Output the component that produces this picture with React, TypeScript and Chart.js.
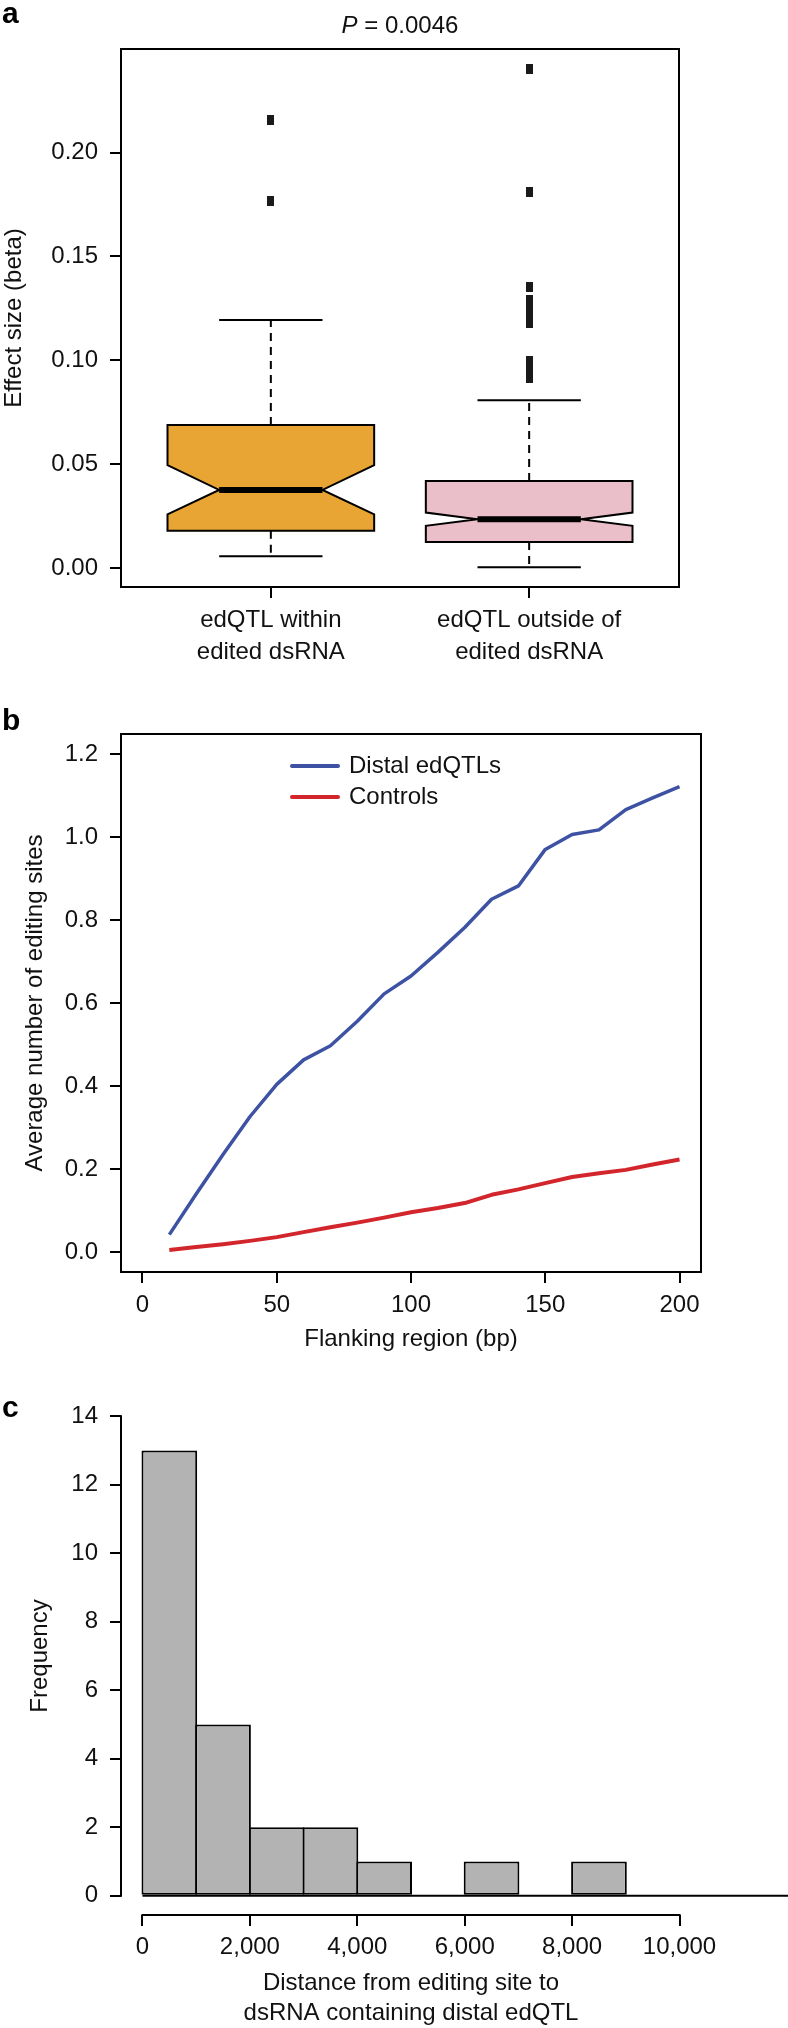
import React, { useEffect, useRef } from 'react';
import { Chart, registerables } from 'chart.js';

Chart.register(...registerables);

const FONT = '"Liberation Sans", Arial, Helvetica, sans-serif';
const INK = '#111111';

// ---------- Panel a: notched box plot ----------
const boxCategories = [
  ['edQTL within', 'edited dsRNA'],
  ['edQTL outside of', 'edited dsRNA'],
];
const boxWhiskerLow = [0.0058, 0.0005];
const boxQ1 = [0.0181, 0.0127];
const boxMedian = [0.0377, 0.0236];
const boxQ3 = [0.0689, 0.042];
const boxWhiskerHigh = [0.1194, 0.0808];
const boxNotchLow = [0.0259, 0.0204];
const boxNotchHigh = [0.0496, 0.0268];
const outliersWithin = [0.2155, 0.1767];
const outliersOutside = [0.24, 0.181, 0.1355, 0.129, 0.1265, 0.124, 0.121, 0.118, 0.0995, 0.0965, 0.094, 0.0915];
const boxColors = ['#E8A534', '#EBBFCA'];
const effectTicks = [0, 0.05, 0.1, 0.15, 0.2];

// ---------- Panel b: lines ----------
const flankBp = [10, 20, 30, 40, 50, 60, 70, 80, 90, 100, 110, 120, 130, 140, 150, 160, 170, 180, 190, 200];
const distalEdQTLs = [0.042, 0.14, 0.235, 0.326, 0.404, 0.463, 0.497, 0.556, 0.622, 0.665, 0.722, 0.782, 0.85, 0.882, 0.97, 1.006, 1.017, 1.066, 1.094, 1.121];
const controlsAvg = [0.005, 0.012, 0.019, 0.027, 0.036, 0.048, 0.06, 0.071, 0.083, 0.096, 0.106, 0.118, 0.138, 0.151, 0.166, 0.181, 0.19, 0.198, 0.211, 0.223];
const flankTicks = [0, 50, 100, 150, 200];
const avgTicks = [0, 0.2, 0.4, 0.6, 0.8, 1.0, 1.2];

// ---------- Panel c: histogram ----------
const binEdges = [0, 1000, 2000, 3000, 4000, 5000, 6000, 7000, 8000, 9000, 10000, 11000, 12000, 13000];
const binCounts = [13, 5, 2, 2, 1, 0, 1, 0, 1, 0, 0, 0, 0];
const distTicks = [0, 2000, 4000, 6000, 8000, 10000];
const freqTicks = [0, 2, 4, 6, 8, 10, 12, 14];

const tickFont = { family: FONT, size: 24 };

const tickGrid = {
  display: true,
  drawOnChartArea: false,
  drawTicks: true,
  tickLength: 11,
  tickWidth: 2,
  lineWidth: 2,
  tickColor: '#000',
  offset: false,
};

function yAxis(min: number, max: number, values: number[], fmt: (v: number) => string, title: string, padTop: number) {
  return {
    type: 'linear',
    position: 'left',
    min,
    max,
    offset: false,
    afterFit: (s: any) => { s.width = 121; },
    afterBuildTicks: (s: any) => { s.ticks = values.map((v) => ({ value: v })); },
    ticks: { font: tickFont, color: INK, padding: 12, autoSkip: false, callback: (v: any) => fmt(Number(v)) },
    grid: tickGrid,
    border: { display: false },
    title: { display: true, text: title, font: { family: FONT, size: 24 }, color: INK, padding: { top: padTop, bottom: 0 } },
  };
}

function xAxis(min: number, max: number, values: number[], label: (v: number, i: number) => any, height: number, pad: number, title: any, lineHeight: number, titlePadBottom: number) {
  return {
    type: 'linear',
    position: 'bottom',
    min,
    max,
    offset: false,
    afterFit: (s: any) => { s.height = height; },
    afterBuildTicks: (s: any) => { s.ticks = values.map((v) => ({ value: v })); },
    ticks: { font: { family: FONT, size: 24, lineHeight }, color: INK, padding: pad, autoSkip: false, maxRotation: 0, minRotation: 0, callback: (v: any, i: number) => label(Number(v), i) },
    grid: tickGrid,
    border: { display: false },
    title: title
      ? { display: true, text: title, font: { family: FONT, size: 24, lineHeight: 1.25 }, color: INK, padding: { top: 0, bottom: titlePadBottom } }
      : { display: false },
  };
}

const framePlugin = {
  id: 'frame',
  afterDraw(chart: any) {
    const { ctx, chartArea: a } = chart;
    ctx.save();
    ctx.strokeStyle = '#000';
    ctx.lineWidth = 2;
    ctx.strokeRect(a.left, a.top, a.right - a.left, a.bottom - a.top);
    ctx.restore();
  },
};

const BOX_HALF = 0.4;
const NOTCH_HALF = 0.2;

const notchedBoxPlugin = {
  id: 'notchedBoxes',
  beforeDatasetsDraw(chart: any) {
    const { ctx, scales } = chart;
    const px = (v: number) => scales.x.getPixelForValue(v);
    const py = (v: number) => scales.y.getPixelForValue(v);
    boxMedian.forEach((med, i) => {
      const c = i + 1;
      const xl = px(c - BOX_HALF), xr = px(c + BOX_HALF);
      const nl = px(c - NOTCH_HALF), nr = px(c + NOTCH_HALF);
      const xc = px(c);
      ctx.save();
      ctx.strokeStyle = '#000';
      ctx.lineWidth = 2;
      ctx.setLineDash([8, 6]);
      ctx.beginPath();
      ctx.moveTo(xc, py(boxQ3[i]));
      ctx.lineTo(xc, py(boxWhiskerHigh[i]));
      ctx.moveTo(xc, py(boxQ1[i]));
      ctx.lineTo(xc, py(boxWhiskerLow[i]));
      ctx.stroke();
      ctx.setLineDash([]);
      ctx.beginPath();
      ctx.moveTo(nl, py(boxWhiskerHigh[i]));
      ctx.lineTo(nr, py(boxWhiskerHigh[i]));
      ctx.moveTo(nl, py(boxWhiskerLow[i]));
      ctx.lineTo(nr, py(boxWhiskerLow[i]));
      ctx.stroke();
      ctx.beginPath();
      ctx.moveTo(xl, py(boxQ3[i]));
      ctx.lineTo(xr, py(boxQ3[i]));
      ctx.lineTo(xr, py(boxNotchHigh[i]));
      ctx.lineTo(nr, py(med));
      ctx.lineTo(xr, py(boxNotchLow[i]));
      ctx.lineTo(xr, py(boxQ1[i]));
      ctx.lineTo(xl, py(boxQ1[i]));
      ctx.lineTo(xl, py(boxNotchLow[i]));
      ctx.lineTo(nl, py(med));
      ctx.lineTo(xl, py(boxNotchHigh[i]));
      ctx.closePath();
      ctx.fillStyle = boxColors[i];
      ctx.fill();
      ctx.lineJoin = 'miter';
      ctx.stroke();
      ctx.lineWidth = 6;
      ctx.beginPath();
      ctx.moveTo(nl, py(med));
      ctx.lineTo(nr, py(med));
      ctx.stroke();
      ctx.restore();
    });
  },
};

const lineLegendPlugin = {
  id: 'lineLegend',
  afterDatasetsDraw(chart: any, _args: any, opts: any) {
    const { ctx, chartArea } = chart;
    const x0 = chartArea.left + opts.offsetX;
    chart.data.datasets.forEach((ds: any, i: number) => {
      const y = chartArea.top + opts.offsetY + i * opts.rowGap;
      ctx.save();
      ctx.strokeStyle = ds.borderColor;
      ctx.lineWidth = opts.lineWidth;
      ctx.lineCap = 'round';
      ctx.beginPath();
      ctx.moveTo(x0, y);
      ctx.lineTo(x0 + opts.lineLength, y);
      ctx.stroke();
      ctx.fillStyle = INK;
      ctx.font = `24px ${FONT}`;
      ctx.textBaseline = 'middle';
      ctx.textAlign = 'left';
      ctx.fillText(ds.label, x0 + opts.lineLength + opts.gap, y);
      ctx.restore();
    });
  },
};

const rAxesPlugin = {
  id: 'rAxes',
  afterDraw(chart: any) {
    const { ctx, chartArea, scales } = chart;
    ctx.save();
    ctx.strokeStyle = '#000';
    ctx.lineWidth = 2;
    ctx.lineCap = 'square';
    ctx.beginPath();
    ctx.moveTo(chartArea.left, scales.y.getPixelForValue(freqTicks[0]));
    ctx.lineTo(chartArea.left, scales.y.getPixelForValue(freqTicks[freqTicks.length - 1]));
    ctx.moveTo(scales.x.getPixelForValue(distTicks[0]), chartArea.bottom);
    ctx.lineTo(scales.x.getPixelForValue(distTicks[distTicks.length - 1]), chartArea.bottom);
    ctx.stroke();
    ctx.restore();
  },
};

const histBaselinePlugin = {
  id: 'histBaseline',
  afterDatasetsDraw(chart: any) {
    const { ctx, scales } = chart;
    const y0 = scales.y.getPixelForValue(0);
    ctx.save();
    ctx.strokeStyle = '#000';
    ctx.lineWidth = 2;
    ctx.beginPath();
    ctx.moveTo(scales.x.getPixelForValue(binEdges[0]), y0);
    ctx.lineTo(scales.x.getPixelForValue(binEdges[binEdges.length - 1]), y0);
    ctx.stroke();
    ctx.restore();
  },
};

function makeMarker(w: number, h: number, color: string) {
  const c = document.createElement('canvas');
  c.width = w;
  c.height = h;
  const g = c.getContext('2d')!;
  g.fillStyle = color;
  g.fillRect(0, 0, w, h);
  return c;
}

const common = {
  responsive: false,
  maintainAspectRatio: false,
  animation: false,
  devicePixelRatio: 1,
  events: [],
};

function configA(): any {
  const marker = makeMarker(7, 10, '#1a1a1a');
  return {
    type: 'scatter',
    data: {
      datasets: [
        { label: 'within', data: outliersWithin.map((v) => ({ x: 1, y: v })), pointStyle: marker, pointRadius: 4 },
        { label: 'outside', data: outliersOutside.map((v) => ({ x: 2, y: v })), pointStyle: marker, pointRadius: 4 },
      ],
    },
    options: {
      ...common,
      layout: { padding: { top: 49, right: 109, bottom: 0, left: 0 } },
      plugins: { legend: { display: false }, tooltip: { enabled: false }, title: { display: false } },
      scales: {
        x: xAxis(0.42, 2.58, boxCategories.map((_, i) => i + 1), (_v, i) => boxCategories[i], 93, 6, null, 1.3334, 0),
        y: yAxis(-0.009, 0.2498, effectTicks, (v) => v.toFixed(2), 'Effect size (beta)', 0),
      },
    },
    plugins: [notchedBoxPlugin, framePlugin],
  };
}

function configB(): any {
  return {
    type: 'line',
    data: {
      datasets: [
        { label: 'Distal edQTLs', data: flankBp.map((x, i) => ({ x, y: distalEdQTLs[i] })), borderColor: '#3D52A3', borderWidth: 3.5, pointRadius: 0, tension: 0, borderJoinStyle: 'round', fill: false },
        { label: 'Controls', data: flankBp.map((x, i) => ({ x, y: controlsAvg[i] })), borderColor: '#D3262C', borderWidth: 4, pointRadius: 0, tension: 0, borderJoinStyle: 'round', fill: false },
      ],
    },
    options: {
      ...common,
      layout: { padding: { top: 34, right: 87, bottom: 0, left: 0 } },
      plugins: {
        legend: { display: false },
        tooltip: { enabled: false },
        lineLegend: { offsetX: 171, offsetY: 32, rowGap: 31, lineLength: 46, lineWidth: 4, gap: 11 },
      },
      scales: {
        x: xAxis(-8, 208, flankTicks, (v) => String(v), 88, 8, 'Flanking region (bp)', 1.2, 6),
        y: yAxis(-0.048, 1.248, avgTicks, (v) => v.toFixed(1), 'Average number of editing sites', 21),
      },
    },
    plugins: [framePlugin, lineLegendPlugin],
  };
}

function configC(): any {
  const barData = binCounts.map((c, i) => ({ x: (binEdges[i] + binEdges[i + 1]) / 2, y: c }));
  return {
    type: 'bar',
    data: {
      datasets: [
        {
          label: 'Frequency',
          data: barData,
          backgroundColor: '#B3B3B3',
          borderColor: '#000',
          borderWidth: 2,
          borderSkipped: false,
          categoryPercentage: 1,
          barPercentage: 1.037,
        },
      ],
    },
    options: {
      ...common,
      layout: { padding: { top: 27, right: 87, bottom: 0, left: 0 } },
      plugins: { legend: { display: false }, tooltip: { enabled: false } },
      scales: {
        x: xAxis(-400, 10400, distTicks, (v) => v.toLocaleString('en-US'), 113, 7, ['Distance from editing site to', 'dsRNA containing distal edQTL'], 1.2, 0),
        y: yAxis(-0.56, 14.56, freqTicks, (v) => String(v), 'Frequency', 26),
      },
    },
    plugins: [histBaselinePlugin, rAxesPlugin],
  };
}

function ChartCanvas({ top, height, make }: { top: number; height: number; make: () => any }) {
  const ref = useRef<HTMLCanvasElement>(null);
  useEffect(() => {
    const chart = new Chart(ref.current as HTMLCanvasElement, make());
    return () => chart.destroy();
  }, []);
  return (
    <canvas
      ref={ref}
      width={788}
      height={height}
      style={{ position: 'absolute', left: 0, top, width: 788, height, display: 'block' }}
    />
  );
}

const letterStyle = (top: number): React.CSSProperties => ({
  position: 'absolute',
  left: 2,
  top,
  font: `bold 30px/30px ${FONT}`,
  color: '#000',
});

export default function App() {
  return (
    <div style={{ position: 'absolute', left: 0, top: 0, width: 788, height: 2028, background: '#fff', overflow: 'hidden' }}>
      <ChartCanvas top={0} height={680} make={configA} />
      <ChartCanvas top={700} height={660} make={configB} />
      <ChartCanvas top={1370} height={658} make={configC} />
      <div style={letterStyle(-2)}>a</div>
      <div style={letterStyle(705)}>b</div>
      <div style={letterStyle(1392)}>c</div>
      <div
        style={{
          position: 'absolute',
          left: 121,
          width: 558,
          top: 13,
          textAlign: 'center',
          font: `24px/24px ${FONT}`,
          color: INK,
        }}
      >
        <i>P</i> = 0.0046
      </div>
    </div>
  );
}
